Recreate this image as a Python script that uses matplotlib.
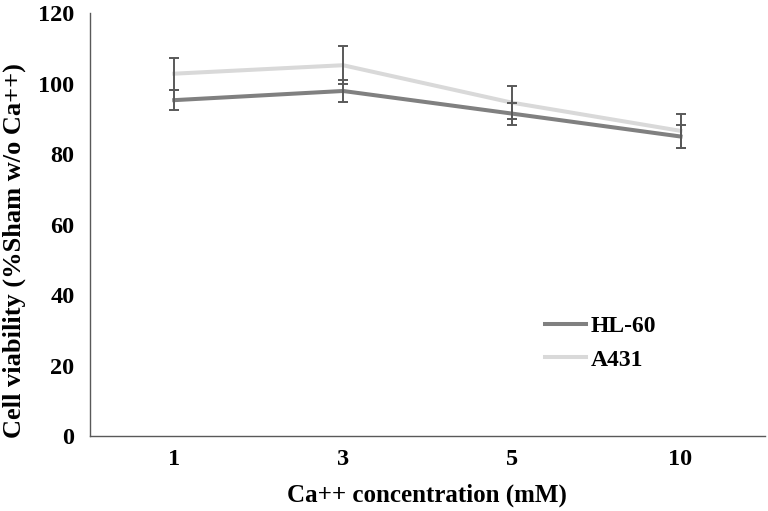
import matplotlib
matplotlib.use("Agg")
import matplotlib.pyplot as plt
import numpy as np

categories = ["1", "3", "5", "10"]
hl60 = [95.3, 97.9, 91.5, 85.0]
hl60_err = [2.8, 3.1, 3.1, 3.3]
a431 = [102.8, 105.2, 94.6, 86.6]
a431_err = [4.5, 5.4, 4.7, 4.9]
yticks = [0, 20, 40, 60, 80, 100, 120]

plt.rcParams['font.family'] = ['Liberation Serif', 'DejaVu Serif']
plt.rcParams['font.weight'] = 'bold'

fig = plt.figure(figsize=(7.68, 5.11), dpi=100)
ax = fig.add_axes([0.117, 0.1458, 0.879, 0.8288])

x = np.arange(len(categories))
ax.plot(x, hl60, color='#808080', lw=2.9, label='HL-60', zorder=2)
ax.plot(x, a431, color='#d9d9d9', lw=2.9, label='A431', zorder=2)
ax.errorbar(x, hl60, yerr=hl60_err, fmt='none', ecolor='#595959', elinewidth=1.4, capsize=3.3, capthick=1.4, zorder=3)
ax.errorbar(x, a431, yerr=a431_err, fmt='none', ecolor='#595959', elinewidth=1.4, capsize=3.3, capthick=1.4, zorder=3)

ax.set_xlim(-0.5, len(categories) - 0.5)
ax.set_ylim(0, 120)
ax.set_yticks(yticks)
ax.set_xticks(x)
ax.set_xticklabels(categories)
ax.tick_params(axis='both', length=0, labelsize=17.5)
ax.tick_params(axis='y', pad=11)
ax.tick_params(axis='x', pad=9)
for lab in ax.get_xticklabels() + ax.get_yticklabels():
    lab.set_fontweight('bold')

for s in ['top', 'right']:
    ax.spines[s].set_visible(False)
for s in ['left', 'bottom']:
    ax.spines[s].set_color('#595959')
    ax.spines[s].set_linewidth(1.0)

ax.set_ylabel('Cell viability (%Sham w/o Ca++)', fontsize=19, fontweight='bold')
ax.yaxis.set_label_coords(-0.094, 0.438)
ax.set_xlabel('Ca++ concentration (mM)', fontsize=18, fontweight='bold', labelpad=10)

leg = ax.legend(loc='center left', bbox_to_anchor=(0.674, 0.22), frameon=False,
                prop={'size': 17, 'weight': 'bold'}, handlelength=1.75, handletextpad=0.2,
                labelspacing=0.5, borderpad=0, borderaxespad=0)

fig.savefig('out.png', dpi=100)
